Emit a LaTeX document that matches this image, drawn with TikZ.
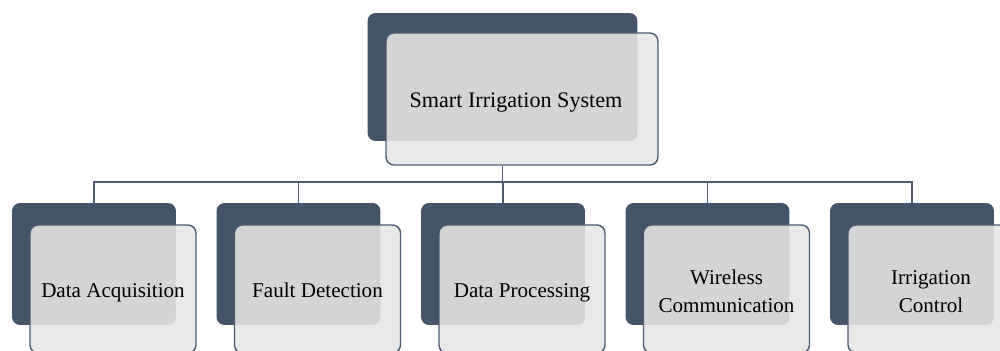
\documentclass[tikz,border=0pt]{standalone}
\usepackage{fontspec}
\setmainfont{Liberation Serif}
\definecolor{navy}{HTML}{44546A}
\definecolor{paleface}{HTML}{E6E6E6}
\definecolor{edge}{HTML}{4D5B70}
\definecolor{wire}{HTML}{505C6E}
\begin{document}
\begin{tikzpicture}[x=0.02cm,y=-0.02cm,
  back/.style={fill=navy,rounded corners=0.16cm,inner sep=0pt,
    minimum width=3.28cm,minimum height=2.44cm},
  front/.style={fill=paleface,fill opacity=0.88,draw=edge,
    line width=0.8pt,rounded corners=0.16cm,inner sep=0pt,
    minimum width=3.32cm,minimum height=2.56cm},
  tag/.style={inner sep=0pt,align=center,
    font=\fontsize{12}{15.9}\selectfont,execute at begin node=\strut},
  link/.style={draw=wire,line width=1pt}]
\useasboundingbox (0,0) rectangle (1000,351);
% Oberer Block
\node[back,minimum width=5.4cm,minimum height=2.56cm] (btop) at (502.5,77) {};
\node[front,minimum width=5.44cm,minimum height=2.64cm] (ftop)
  at ([shift={(19.5,22)}]btop.center) {};
\node[tag,font=\fontsize{12.6}{15.4}\selectfont] (ttop)
  at ([shift={(-6,2.6)}]ftop.center) {Smart Irrigation System};
% Sammelleitung
\coordinate (bus) at (502.5,182);
% Untere Bloecke
\foreach \i/\label/\dy in {1/Data Acquisition/3,2/Fault Detection/3,
    3/Data Processing/3,4/Wireless\\Communication/6.5,5/Irrigation\\Control/6.5}{
  \node[back] (b\i) at (94+204.5*\i-204.5,264) {};
  \node[front] (f\i) at ([shift={(19,25)}]b\i.center) {};
  \node[tag] (t\i) at ([shift={(0,\dy)}]f\i.center) {\label};
}
% Verbindungen
\draw[link] (btop.south |- ftop.south) -- (bus);
\draw[link] (b1.north) -- (b1.north |- bus) -- (b5.north |- bus) -- (b5.north);
\foreach \i in {2,3,4}
  \draw[link] (b\i.north |- bus) -- (b\i.north);
\end{tikzpicture}
\end{document}
